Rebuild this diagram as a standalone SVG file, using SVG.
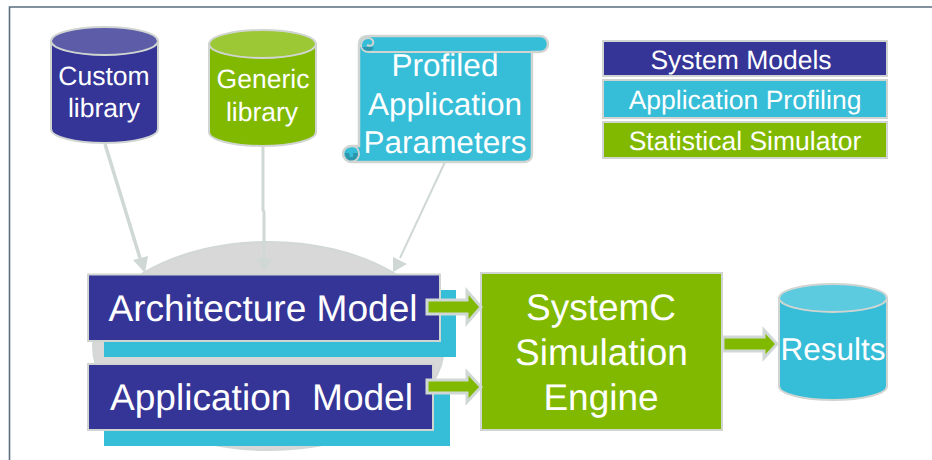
<svg xmlns="http://www.w3.org/2000/svg" width="932" height="460" viewBox="0 0 932 460">
<style>
text{font-family:"Liberation Sans",Arial,sans-serif;fill:#fff;text-anchor:middle;text-rendering:geometricPrecision}
.edge{stroke:none;fill:#cfd8d5}
.ln{fill:none;stroke:#cfd8d5;stroke-width:3.500}
.o{stroke:#d0d5d2;stroke-width:2}
.blue{fill:#353497}.cyan{fill:#36bdd8}.green{fill:#80b900}
.arrow{fill:#80b900;stroke:#d0d8d5;stroke-width:3}
</style>
<rect width="932" height="460" fill="#fff"/>
<path d="M9.500 460V7H932" fill="none" stroke="#5b6e80" stroke-width="1.600"/>
<g id="backdrop">
<ellipse cx="268.500" cy="346" rx="175.500" ry="104" fill="#d8d8d8" stroke="#d2d8d5" stroke-width="2"/>
</g>
<g id="connectors">
<path class="ln" d="M105 144L140 258"/><path class="edge" d="M145 273L133 260L148 256Z"/>
<path class="ln" style="stroke-width:3" d="M263 146V210L264 212V258"/><path class="edge" d="M264 272L257 258H272Z"/>
<path class="ln" style="stroke-width:2" d="M445 162L400 258"/><path class="edge" d="M393 272L393 257L407 264Z"/>
</g>
<g id="custom-library">
<path class="blue o" d="M51 41V129C51 137 75 143 104.500 143S158 137 158 129V41Z"/>
<ellipse class="o" cx="104.500" cy="41" rx="53.500" ry="14" fill="#5d5ca9"/>
<text x="104" y="85" font-size="26.500">Custom</text><text x="104" y="117" font-size="26.500">library</text>
</g>
<g id="generic-library">
<path class="green o" d="M209 44V132C209 140 233 146 262.500 146S316 140 316 132V44Z"/>
<ellipse class="o" cx="262.500" cy="44" rx="53.500" ry="14" fill="#9cc835"/>
<text x="263" y="88" font-size="26.500">Generic</text><text x="262" y="121" font-size="26.500">library</text>
</g>
<g id="profiled-application-parameters">
<path class="cyan" stroke="#d0d5d2" stroke-width="2.500" d="M359 146V45C359 39 363 36 369 36H540C545 36 548 40 548 44C548 48 545 52 540 52H532V154C532 159 529 162 524 162H352C347 162 343 158 343 154C343 149 347 146 352 146Z"/>
<path d="M369 52C364 52 361 49 361 45C361 41 364 38 368 38C372 38 374 41 373 44C372 46 369 46 367 45M369 52H532" fill="none" stroke="#d0d5d2" stroke-width="2"/>
<path d="M362 47C364 50 367 51 370 51C373 50 374 48 373 47L368 47Z" fill="#2e97ad"/>
<path d="M352 146C356 146 359 149 359 154C359 158 356 161 352 161C349 161 347 158 348 155" fill="none" stroke="#d0d5d2" stroke-width="2"/>
<path d="M345 153C345 158 348 161 352 160.500C356 160 358 157 358 153H353V157H350L349 153Z" fill="#2e97ad"/>
<text x="445" y="76" font-size="31.500">Profiled</text><text x="445" y="115" font-size="31.500">Application</text><text x="445" y="153" font-size="31.500">Parameters</text>
</g>
<g id="legend-system-models">
<rect class="blue o" x="603" y="41" width="284" height="35"/><text x="741" y="69" font-size="26.500">System Models</text>
</g>
<g id="legend-application-profiling">
<rect class="cyan o" x="603" y="80" width="284" height="38"/><text x="745" y="109" font-size="26.500">Application Profiling</text>
</g>
<g id="legend-statistical-simulator">
<rect class="green o" x="603" y="122" width="284" height="36"/><text x="745" y="150" font-size="26.500">Statistical Simulator</text>
</g>
<g id="architecture-model">
<rect class="cyan" x="104" y="290" width="352" height="67"/>
<rect class="blue o" x="88" y="274.500" width="352" height="66.500"/>
<text x="263" y="321" font-size="37.100">Architecture Model</text>
</g>
<g id="application-model">
<rect class="cyan" x="104" y="380" width="346" height="66"/>
<rect class="blue o" x="88" y="364" width="345" height="66"/>
<text x="261.500" y="410" font-size="37.100" xml:space="preserve">Application  Model</text>
</g>
<g id="systemc-engine">
<rect class="green o" x="481" y="273" width="241" height="157"/>
<text x="601" y="320" font-size="37">SystemC</text><text x="601.500" y="365" font-size="37">Simulation</text><text x="601" y="410" font-size="37">Engine</text>
</g>
<g id="results">
<path class="cyan o" d="M779 298V386C779 394 803 400 833 400S887 394 887 386V298Z"/>
<ellipse class="o" cx="833" cy="298" rx="54" ry="14" fill="#5ccbe0"/>
<text x="833" y="360" font-size="31.500">Results</text>
</g>
<g id="block-arrows">
<path class="arrow" d="M427 300H467V291L481 307L467 323V314H427Z"/>
<path class="arrow" d="M427 380H467V372L481 387L467 402V393H427Z"/>
<path class="arrow" d="M723 337H764V330L777 344L764 358V351H723Z"/>
</g>
</svg>
